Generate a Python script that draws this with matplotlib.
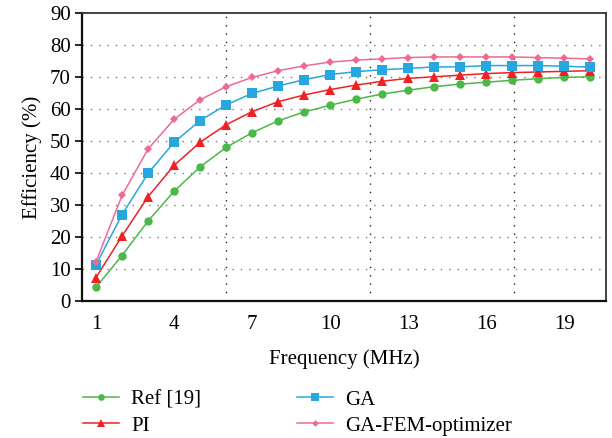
import matplotlib
matplotlib.use("Agg")
import matplotlib.pyplot as plt

plt.rcParams['font.family'] = ['Liberation Serif', 'DejaVu Serif']

freq = list(range(1, 21))
ref19 = [4.3, 14.2, 25.0, 34.3, 41.9, 48.0, 52.6, 56.3, 59.1, 61.2, 63.1, 64.7, 65.9, 67.0, 67.8, 68.4, 69.0, 69.5, 69.9, 70.1]
pi = [7.3, 20.3, 32.6, 42.4, 49.6, 55.1, 59.2, 62.3, 64.4, 66.1, 67.5, 68.7, 69.6, 70.1, 70.6, 71.1, 71.4, 71.6, 71.8, 72.0]
ga = [11.3, 27.0, 39.9, 49.6, 56.4, 61.3, 64.9, 67.2, 69.2, 70.8, 71.7, 72.3, 72.7, 73.2, 73.2, 73.6, 73.6, 73.6, 73.4, 73.1]
gafem = [12.3, 33.0, 47.5, 56.8, 62.9, 67.0, 69.9, 72.0, 73.5, 74.7, 75.3, 75.7, 76.1, 76.3, 76.3, 76.3, 76.3, 76.1, 75.9, 75.7]

labels = ['Ref [19]', 'PI', 'GA', 'GA-FEM-optimizer']
colors = ['#4cb848', '#ee2224', '#27a7e0', '#ee6a94']
markers = ['o', '^', 's', 'D']
msizes = [6, 7, 6.5, 4.3]
series = [ref19, pi, ga, gafem]

xticks = [1, 4, 7, 10, 13, 16, 19]
yticks = list(range(0, 91, 10))
vgrid = [6.0, 11.54, 17.08]

fig = plt.figure(figsize=(6.12, 4.38), dpi=100)
ax = fig.add_axes([0.134, 0.313, 0.856, 0.657])

for yv in range(10, 90, 10):
    ax.axhline(yv, color='#777777', linestyle=(0, (1, 5)), linewidth=1.0, zorder=0)
for xv in vgrid:
    ax.axvline(xv, color='#222222', linestyle=(0, (1, 5)), linewidth=1.0, zorder=0)

for s, c, m, ms, lab in zip(series, colors, markers, msizes, labels):
    ax.plot(freq, s, color=c, marker=m, markersize=ms, linewidth=1.1, label=lab,
            markeredgewidth=0)

ax.set_xlim(0.46, 20.6)
ax.set_ylim(0, 90)
ax.set_xticks(xticks)
ax.set_yticks(yticks)
ax.tick_params(axis='x', length=0, labelsize=15, pad=10)
ax.tick_params(axis='y', length=5, width=1.2, labelsize=15, direction='out', pad=3)
for sp in ['left', 'bottom']:
    ax.spines[sp].set_linewidth(1.6)
    ax.spines[sp].set_color('#111111')
for sp in ['top', 'right']:
    ax.spines[sp].set_linewidth(1.3)
    ax.spines[sp].set_color('#333333')

ax.set_xlabel('Frequency (MHz)', fontsize=15, labelpad=11)
ax.set_ylabel('Efficiency (%)', fontsize=15, labelpad=6)

handles, labs = ax.get_legend_handles_labels()
leg = fig.legend(handles, labs, ncol=2, loc='upper left',
                 bbox_to_anchor=(0.105, 0.152), frameon=False, fontsize=15,
                 handlelength=1.75, columnspacing=4.6, labelspacing=0.3,
                 handletextpad=0.55)
for h in leg.legend_handles:
    h.set_markersize(h.get_markersize() * 0.8)

fig.savefig('out.png', dpi=100)
